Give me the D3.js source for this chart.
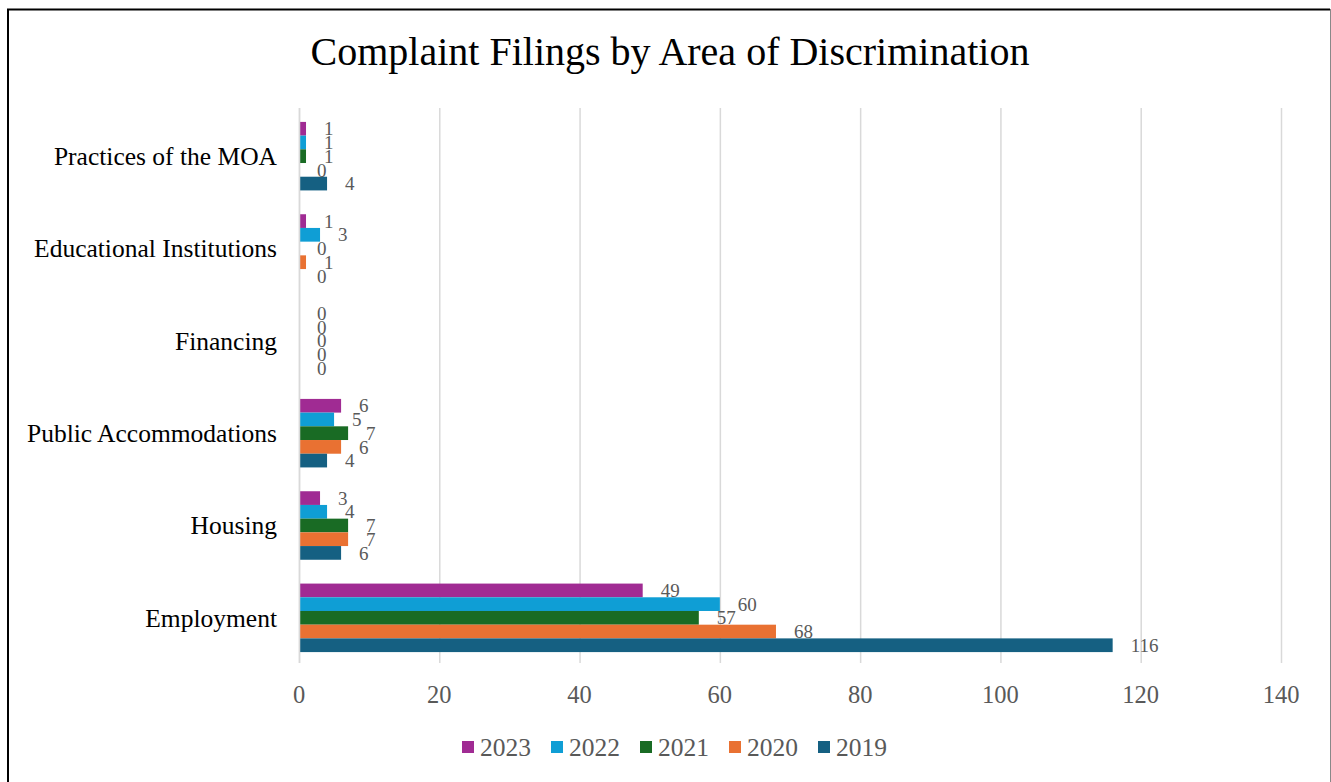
<!DOCTYPE html>
<html>
<head>
<meta charset="utf-8">
<script src="https://cdn.jsdelivr.net/npm/d3@7"></script>
<style>
  html, body { margin: 0; padding: 0; background: #fff; }
  svg { display: block; }
</style>
</head>
<body>
<svg id="chart" width="1331" height="782"></svg>
<script>
// ---- Data ----
const categories = ["Practices of the MOA", "Educational Institutions", "Financing", "Public Accommodations", "Housing", "Employment"];
const years = ["2023", "2022", "2021", "2020", "2019"];
const values2023 = [1, 1, 0, 6, 3, 49];
const values2022 = [1, 3, 0, 5, 4, 60];
const values2021 = [1, 0, 0, 7, 7, 57];
const values2020 = [0, 1, 0, 6, 7, 68];
const values2019 = [4, 0, 0, 4, 6, 116];
const xTicks = [0, 20, 40, 60, 80, 100, 120, 140];
const title = "Complaint Filings by Area of Discrimination";

const seriesValues = { "2023": values2023, "2022": values2022, "2021": values2021, "2020": values2020, "2019": values2019 };
const colors = { "2023": "#A02B93", "2022": "#0F9ED5", "2021": "#196B24", "2020": "#E97132", "2019": "#156082" };

const svg = d3.select("#chart");
const serif = "'Liberation Serif', 'Times New Roman', serif";

// Border
svg.append("line").attr("x1", 8).attr("y1", 9).attr("x2", 8).attr("y2", 782).attr("stroke", "#000").attr("stroke-width", 2);
svg.append("line").attr("x1", 7).attr("y1", 9.5).attr("x2", 1330).attr("y2", 9.5).attr("stroke", "#000").attr("stroke-width", 2);
svg.append("line").attr("x1", 1330.5).attr("y1", 9).attr("x2", 1330.5).attr("y2", 782).attr("stroke", "#888").attr("stroke-width", 1);

// Scales
const x = d3.scaleLinear().domain([0, 140]).range([299, 1281]);
const y0 = d3.scaleBand().domain(categories).range([110, 664]).paddingInner(0.258).paddingOuter(0.129);
const y1 = d3.scaleBand().domain(years).range([0, y0.bandwidth()]);

// Title
svg.append("text").attr("x", 670).attr("y", 65).attr("text-anchor", "middle")
  .attr("font-family", serif).attr("font-size", 40).attr("fill", "#000").text(title);

// Gridlines
svg.append("g").selectAll("line").data(xTicks).join("line")
  .attr("x1", d => x(d) + 0.5).attr("x2", d => x(d) + 0.5)
  .attr("y1", 108).attr("y2", 663)
  .attr("stroke", "#d9d9d9").attr("stroke-width", 1.5);

// X tick labels
svg.append("g").selectAll("text").data(xTicks).join("text")
  .attr("x", d => x(d)).attr("y", 703).attr("text-anchor", "middle")
  .attr("font-family", serif).attr("font-size", 24.5).attr("fill", "#595959")
  .text(d => d);

// Category labels
svg.append("g").selectAll("text").data(categories).join("text")
  .attr("x", 277).attr("y", d => y0(d) + y0.bandwidth() / 2)
  .attr("dy", "0.35em").attr("text-anchor", "end")
  .attr("font-family", serif).attr("font-size", 25.5).attr("fill", "#000")
  .text(d => d);

// Bars
const rows = [];
categories.forEach((c, i) => years.forEach(yr => rows.push({ cat: c, year: yr, value: seriesValues[yr][i] })));

const g = svg.append("g");
g.selectAll("rect").data(rows).join("rect")
  .attr("x", x(0))
  .attr("y", d => y0(d.cat) + y1(d.year))
  .attr("width", d => x(d.value) - x(0))
  .attr("height", y1.bandwidth())
  .attr("fill", d => colors[d.year]);

// Left axis line
svg.append("line").attr("x1", x(0) + 0.5).attr("x2", x(0) + 0.5).attr("y1", 108).attr("y2", 663)
  .attr("stroke", "#d9d9d9").attr("stroke-width", 1.5);

// Data labels
g.selectAll("text.lbl").data(rows).join("text").attr("class", "lbl")
  .attr("x", d => x(d.value) + 18)
  .attr("y", d => y0(d.cat) + y1(d.year) + y1.bandwidth() / 2)
  .attr("dy", "0.35em")
  .attr("font-family", serif).attr("font-size", 19).attr("fill", "#595959")
  .text(d => d.value);

// Legend
const lx = d3.scaleLinear().domain([0, 1]).range([462, 551]);
const leg = svg.append("g").selectAll("g").data(years).join("g")
  .attr("transform", (d, i) => `translate(${lx(i)},747)`);
leg.append("rect").attr("x", 0).attr("y", -6).attr("width", 12).attr("height", 12)
  .attr("fill", d => colors[d]);
leg.append("text").attr("x", 18).attr("y", 0).attr("dy", "0.35em")
  .attr("font-family", serif).attr("font-size", 25.5).attr("fill", "#595959")
  .text(d => d);
</script>
</body>
</html>
